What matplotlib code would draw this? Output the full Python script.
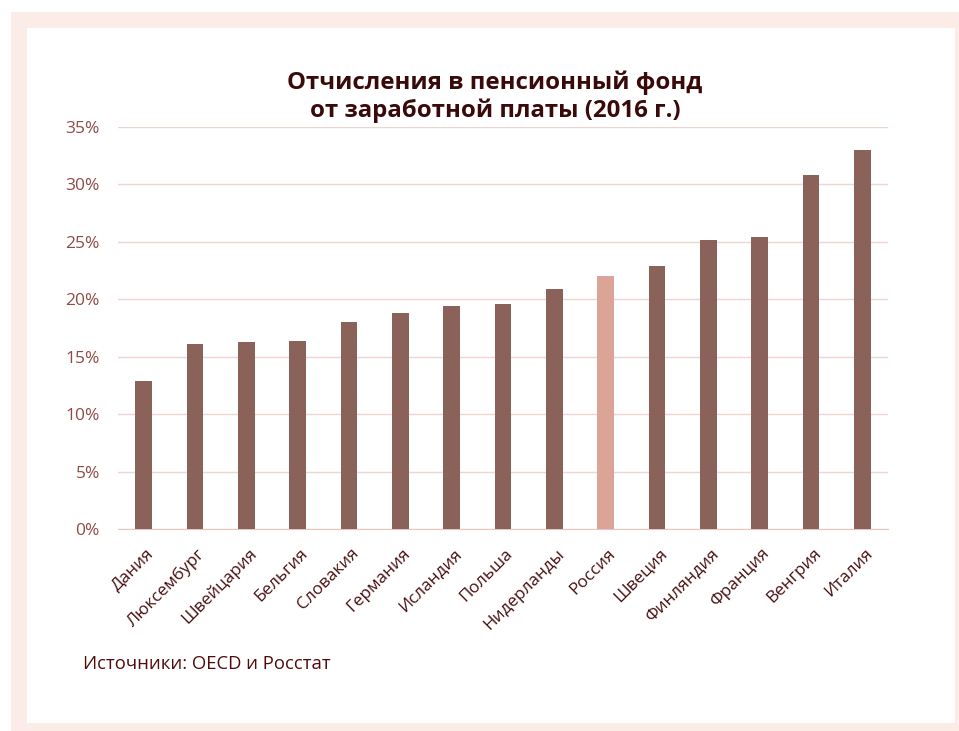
import matplotlib.pyplot as plt
import matplotlib.transforms as mtransforms
from matplotlib.patches import Rectangle
from matplotlib.ticker import FuncFormatter

plt.rcParams['font.family'] = ['Open Sans', 'DejaVu Sans']

# данные: отчисления в пенсионный фонд, % от зарплаты (2016)
countries = ['Дания', 'Люксембург', 'Швейцария', 'Бельгия', 'Словакия', 'Германия',
             'Исландия', 'Польша', 'Нидерланды', 'Россия', 'Швеция', 'Финляндия',
             'Франция', 'Венгрия', 'Италия']
rates = [12.9, 16.1, 16.3, 16.4, 18.0, 18.8, 19.4, 19.6, 20.9, 22.0, 22.9, 25.2, 25.4, 30.8, 33.0]
yticks = [0, 5, 10, 15, 20, 25, 30, 35]
highlight = 'Россия'

W, H = 959, 731
fig = plt.figure(figsize=(W / 100, H / 100), dpi=100)

# розовая рамка и белая подложка
fig.patches.append(Rectangle((11 / W, 0), 1 - 11 / W, 1 - 12 / H, transform=fig.transFigure,
                             facecolor='#fcece7', edgecolor='none', zorder=-2))
fig.patches.append(Rectangle((27 / W, 8 / H), (955 - 27) / W, (723 - 28) / H,
                             transform=fig.transFigure, facecolor='white',
                             edgecolor='none', zorder=-1))

ax = fig.add_axes([118 / W, 1 - 529 / H, (888 - 118) / W, (529 - 127) / H])
ax.patch.set_alpha(0)

colors = ['#dba497' if c == highlight else '#8b6259' for c in countries]
ax.bar(range(len(countries)), rates, width=0.33, color=colors, zorder=3)

ax.set_xlim(-0.5, len(countries) - 0.5)
ax.set_ylim(0, 35)
ax.set_yticks(yticks)
ax.yaxis.set_major_formatter(FuncFormatter(lambda v, p: f'{int(v)}%'))
ax.grid(axis='y', color='#edd6cf', linewidth=1, zorder=0)
for s in ['top', 'right', 'left']:
    ax.spines[s].set_visible(False)
ax.spines['bottom'].set_color('#e3c8c0')
ax.tick_params(axis='y', length=0, pad=13, labelsize=12.5, labelcolor='#8e4b45')
ax.tick_params(axis='x', length=0, pad=12, labelsize=12.3, labelcolor='#4a1010')
ax.set_xticks(range(len(countries)))
ax.set_xticklabels(countries, rotation=45, ha='right', rotation_mode='anchor')
shift = mtransforms.ScaledTranslation(1.5 / 72, 0, fig.dpi_scale_trans)
for lbl in ax.get_xticklabels():
    lbl.set_transform(lbl.get_transform() + shift)

fig.text(495 / W, 1 - 97 / H, 'Отчисления в пенсионный фонд\nот заработной платы (2016 г.)',
         ha='center', va='center', fontsize=17.3, fontweight='bold', color='#3a0a0a',
         linespacing=1.2)
fig.text(83 / W, 1 - 664 / H, 'Источники: OECD и Росстат', ha='left', va='center',
         fontsize=13.3, color='#500c0c')

fig.savefig('out.png', dpi=100)
